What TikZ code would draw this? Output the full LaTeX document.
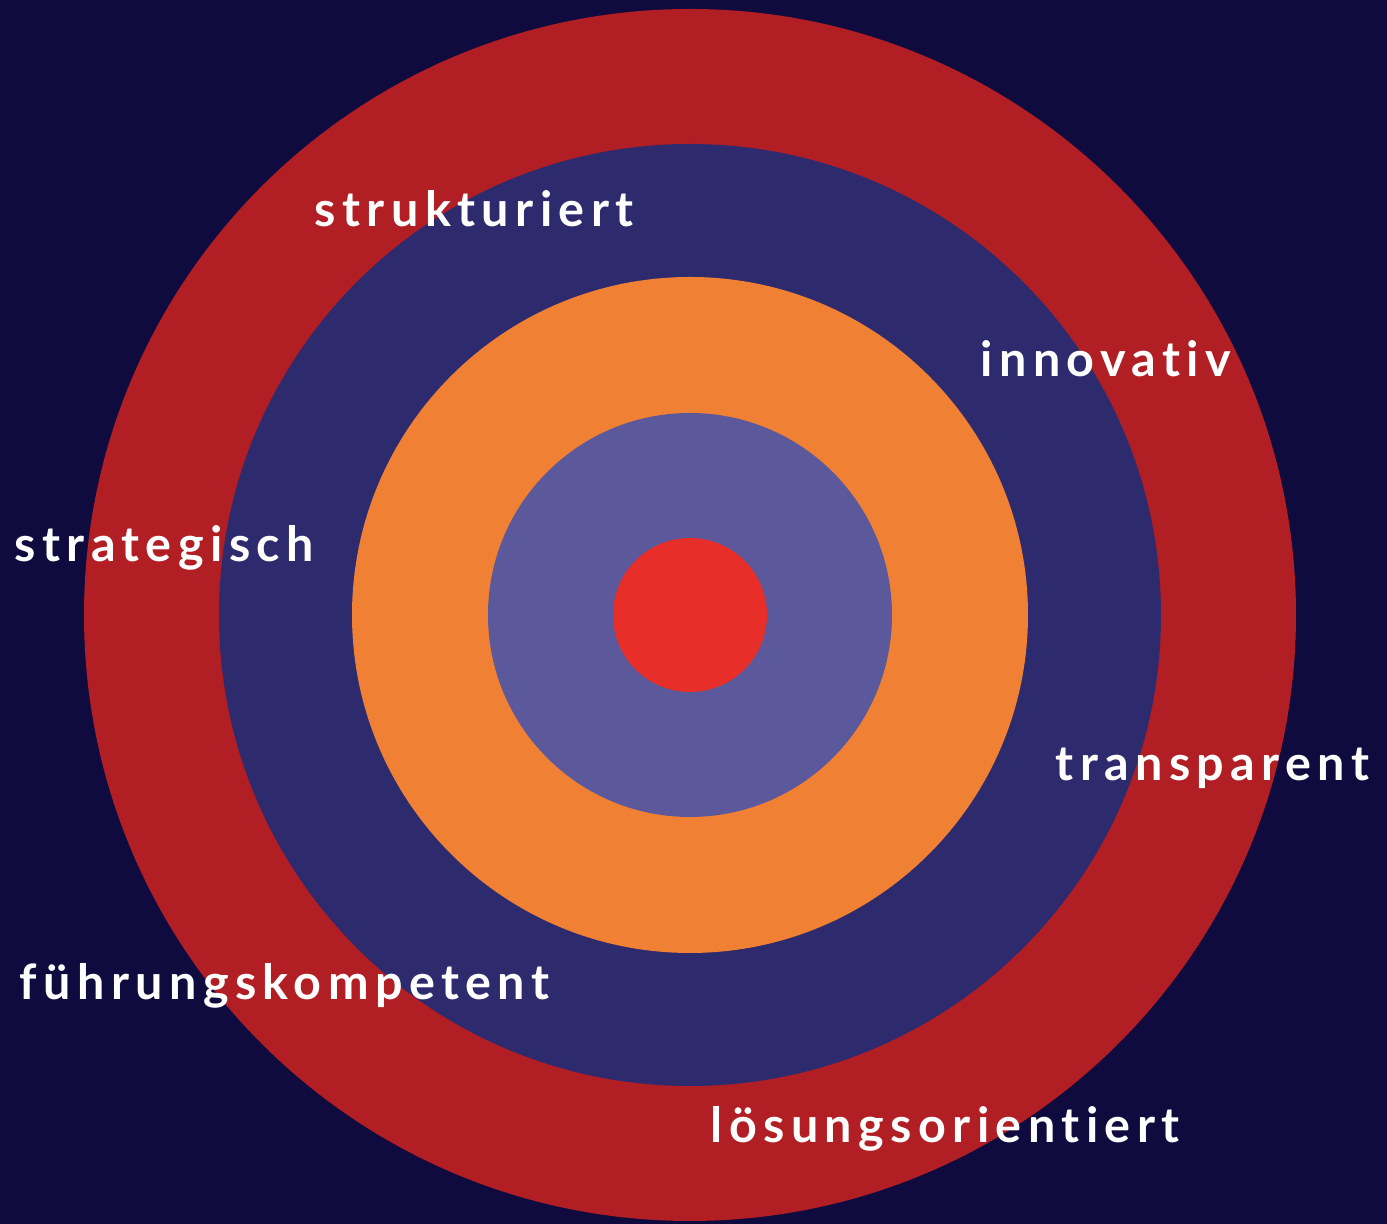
\documentclass[tikz,border=0pt]{standalone}
\usepackage{fontspec}
\setmainfont{Lato}[BoldFont={Lato Bold},LetterSpace=13.2,Ligatures={NoCommon,NoRare,NoDiscretionary},RawFeature={-liga;-clig}]
\usepackage{tikz}
\definecolor{bgNavy}{RGB}{16, 11, 62}
\definecolor{ringRed}{RGB}{177, 30, 36}
\definecolor{ringBlue}{RGB}{46, 42, 110}
\definecolor{ringOrange}{RGB}{240, 128, 52}
\definecolor{ringPurple}{RGB}{91, 88, 155}
\definecolor{coreRed}{RGB}{232, 46, 40}

\begin{document}
\begin{tikzpicture}[scale=1.0,
    word/.style={anchor=base west, inner sep=0pt, text=white, font=\fontsize{13.8}{16}\selectfont\bfseries}]
  \fill[bgNavy] (0,0) rectangle (13.87,12.24);
  \useasboundingbox (0,0) rectangle (13.87,12.24);
  % rings, outside in
  \fill[ringRed] (6.90,6.09) circle (6.06);
  \fill[ringBlue] (6.90,6.09) circle (4.71);
  \fill[ringOrange] (6.90,6.09) circle (3.38);
  \fill[ringPurple] (6.90,6.09) circle (2.02);
  \fill[coreRed] (6.90,6.09) circle (0.77);
  % labels
  \node[word] (strukturiert) at (3.14,9.97) {strukturiert};
  \node[word] (innovativ) at (9.80,8.47) {innovativ};
  \node[word] (strategisch) at (0.14,6.62) {strategisch};
  \node[word] (transparent) at (10.55,4.43) {transparent};
  \node[word] (fuehrung) at (0.19,2.24) {führungskompetent};
  \node[word] (loesung) at (7.10,0.81) {lösungsorientiert};
\end{tikzpicture}
\end{document}
